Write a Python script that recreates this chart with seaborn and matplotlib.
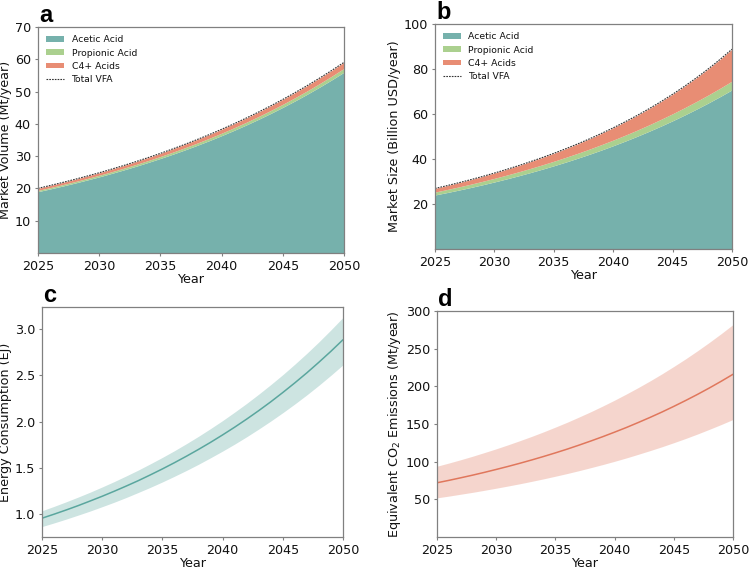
#VFA market outlook 2025-2050 (4 panels)
import numpy as np
import pandas as pd
import seaborn as sns
import matplotlib
matplotlib.use("Agg")
import matplotlib.pyplot as plt

#Data
years = list(range(2025, 2051))

#Panel a : market volume (Mt/year)
vol_acetic = [19.00, 19.84, 20.72, 21.63, 22.59, 23.58, 24.63, 25.72, 26.85, 28.04,
              29.28, 30.57, 31.92, 33.33, 34.80, 36.34, 37.95, 39.62, 41.37, 43.20,
              45.11, 47.10, 49.18, 51.36, 53.62, 55.99]
vol_propionic = [0.40, 0.42, 0.44, 0.46, 0.48, 0.50, 0.52, 0.54, 0.57, 0.59,
                 0.62, 0.65, 0.68, 0.71, 0.74, 0.77, 0.81, 0.84, 0.88, 0.92,
                 0.96, 1.01, 1.05, 1.10, 1.15, 1.20]
vol_c4 = [0.62, 0.65, 0.68, 0.71, 0.74, 0.77, 0.81, 0.84, 0.88, 0.92,
          0.96, 1.01, 1.05, 1.10, 1.15, 1.20, 1.25, 1.31, 1.37, 1.43,
          1.49, 1.56, 1.63, 1.70, 1.78, 1.86]

#Panel b : market size (Billion USD/year)
size_acetic = [24.00, 25.06, 26.17, 27.32, 28.53, 29.79, 31.11, 32.48, 33.92, 35.42,
               36.98, 38.61, 40.32, 42.10, 43.96, 45.90, 47.93, 50.05, 52.26, 54.57,
               56.98, 59.50, 62.13, 64.87, 67.74, 70.73]
size_propionic = [1.30, 1.36, 1.42, 1.48, 1.55, 1.62, 1.69, 1.77, 1.85, 1.93,
                  2.02, 2.11, 2.20, 2.30, 2.41, 2.51, 2.63, 2.74, 2.87, 3.00,
                  3.13, 3.27, 3.42, 3.57, 3.73, 3.90]
size_c4 = [1.60, 1.72, 1.86, 2.00, 2.16, 2.34, 2.53, 2.74, 2.98, 3.23,
           3.51, 3.83, 4.17, 4.55, 4.97, 5.44, 5.96, 6.53, 7.16, 7.87,
           8.66, 9.54, 10.51, 11.60, 12.82, 14.18]

#Panel c : energy consumption (EJ)
energy_mid = [0.960, 1.003, 1.048, 1.095, 1.145, 1.196, 1.250, 1.306, 1.364, 1.426,
              1.490, 1.557, 1.627, 1.700, 1.776, 1.856, 1.939, 2.026, 2.117, 2.212,
              2.312, 2.416, 2.524, 2.638, 2.756, 2.880]
energy_low = [0.870, 0.909, 0.950, 0.993, 1.037, 1.084, 1.132, 1.183, 1.237, 1.292,
              1.350, 1.411, 1.474, 1.540, 1.610, 1.682, 1.757, 1.836, 1.919, 2.005,
              2.095, 2.189, 2.287, 2.390, 2.498, 2.610]
energy_high = [1.040, 1.087, 1.136, 1.187, 1.240, 1.296, 1.354, 1.415, 1.478, 1.545,
               1.614, 1.686, 1.762, 1.841, 1.924, 2.010, 2.101, 2.195, 2.294, 2.397,
               2.504, 2.617, 2.734, 2.857, 2.986, 3.120]

#Panel d : CO2 eq emissions (Mt/year)
co2_mid = [72.0, 75.2, 78.6, 82.1, 85.8, 89.7, 93.7, 97.9, 102.3, 106.9,
           111.7, 116.7, 122.0, 127.5, 133.2, 139.2, 145.4, 152.0, 158.8, 165.9,
           173.4, 181.2, 189.3, 197.8, 206.7, 216.0]
co2_low = [52.0, 54.3, 56.8, 59.3, 62.0, 64.8, 67.7, 70.7, 73.9, 77.2,
           80.7, 84.3, 88.1, 92.1, 96.2, 100.5, 105.0, 109.8, 114.7, 119.8,
           125.2, 130.8, 136.7, 142.9, 149.3, 156.0]
co2_high = [94.0, 98.2, 102.6, 107.2, 112.1, 117.1, 122.4, 127.9, 133.6, 139.6,
            145.9, 152.4, 159.3, 166.4, 173.9, 181.7, 189.9, 198.4, 207.3, 216.6,
            226.4, 236.5, 247.2, 258.3, 269.9, 282.0]

acid_labels = ['Acetic Acid', 'Propionic Acid', 'C4+ Acids']
acid_colors = ['#76b1ac', '#abd08f', '#e88d74']
teal = '#5aa69e'
coral = '#e0775c'

#Style
sns.set_style("white", {"axes.edgecolor": "#808080", "text.color": "#111111",
                        "axes.labelcolor": "#111111"})
plt.rcParams['font.family'] = ['DejaVu Sans']
plt.rcParams['axes.linewidth'] = 0.9
plt.rcParams['xtick.labelsize'] = 9.2
plt.rcParams['ytick.labelsize'] = 9.2
plt.rcParams['axes.labelsize'] = 9.2
plt.rcParams['xtick.bottom'] = True
plt.rcParams['ytick.left'] = True
plt.rcParams['xtick.major.size'] = 2.5
plt.rcParams['ytick.major.size'] = 2.5
plt.rcParams['xtick.major.pad'] = 2.5
plt.rcParams['ytick.major.pad'] = 2.5
plt.rcParams['xtick.color'] = '#808080'
plt.rcParams['ytick.color'] = '#808080'
plt.rcParams['xtick.labelcolor'] = '#111111'
plt.rcParams['ytick.labelcolor'] = '#111111'

fig = plt.figure(figsize=(7.51, 5.69), dpi=100)
ax_a = fig.add_axes([0.0506, 0.5554, 0.4074, 0.3971])
ax_b = fig.add_axes([0.5792, 0.5624, 0.3955, 0.3954])
ax_c = fig.add_axes([0.0559, 0.0562, 0.4008, 0.4043])
ax_d = fig.add_axes([0.5819, 0.0562, 0.3941, 0.3972])


def stack_panel(ax, acetic, propionic, c4, ylabel, yticks, ymax):
    ax.stackplot(years, acetic, propionic, c4, colors=acid_colors,
                 labels=acid_labels, linewidth=0)
    total = pd.DataFrame({'Year': years,
                          'Total': np.array(acetic) + np.array(propionic) + np.array(c4)})
    sns.lineplot(data=total, x='Year', y='Total', ax=ax, color='#333333',
                 linestyle=(0, (1.5, 1)), linewidth=0.8, label='Total VFA')
    ax.set_xlim(2025, 2050)
    ax.set_ylim(0, ymax)
    ax.set_yticks(yticks)
    ax.set_xticks([2025, 2030, 2035, 2040, 2045, 2050])
    ax.set_xlabel('Year', labelpad=0)
    ax.set_ylabel(ylabel, labelpad=2)
    ax.legend(loc='upper left', frameon=False, fontsize=6.7,
              handlelength=1.9, handleheight=0.6, handletextpad=0.8,
              labelspacing=0.45, borderaxespad=0.5)


def band_panel(ax, mid, low, high, color, ylabel):
    d = pd.DataFrame({'Year': years, 'mid': mid, 'low': low, 'high': high})
    ax.fill_between(d['Year'], d['low'], d['high'], color=color, alpha=0.3, linewidth=0)
    sns.lineplot(data=d, x='Year', y='mid', ax=ax, color=color, linewidth=1.1)
    ax.set_xlim(2025, 2050)
    ax.set_xticks([2025, 2030, 2035, 2040, 2045, 2050])
    ax.set_xlabel('Year', labelpad=0)
    ax.set_ylabel(ylabel, labelpad=2)


stack_panel(ax_a, vol_acetic, vol_propionic, vol_c4, 'Market Volume (Mt/year)',
            [10, 20, 30, 40, 50, 60, 70], 70)
stack_panel(ax_b, size_acetic, size_propionic, size_c4, 'Market Size (Billion USD/year)',
            [20, 40, 60, 80, 100], 100)

band_panel(ax_c, energy_mid, energy_low, energy_high, teal, 'Energy Consumption (EJ)')
ax_c.set_yticks([1.0, 1.5, 2.0, 2.5, 3.0])

band_panel(ax_d, co2_mid, co2_low, co2_high, coral, 'Equivalent CO$_2$ Emissions (Mt/year)')
ax_d.set_ylim(0, 300)
ax_d.set_yticks([50, 100, 150, 200, 250, 300])

for ax, letter in zip([ax_a, ax_b, ax_c, ax_d], ['a', 'b', 'c', 'd']):
    ax.text(0.005, 1.0, letter, transform=ax.transAxes, fontsize=17, color='black',
            fontweight='bold', family='Liberation Sans', va='bottom', ha='left')

plt.savefig('out.png', dpi=100)
